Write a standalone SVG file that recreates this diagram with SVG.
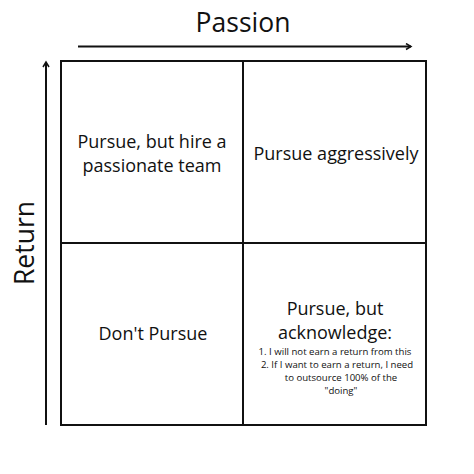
<svg xmlns="http://www.w3.org/2000/svg" width="474" height="474" viewBox="0 0 474 474">
<style>
text{font-family:"Open Sans","Liberation Sans",sans-serif;fill:#111;text-anchor:middle}
.cell{fill:#fff;stroke:#111;stroke-width:2}
.ax{stroke:#111;stroke-width:2;fill:none}
.q{font-size:18px}
.s{font-size:9.6px}
</style>
<defs>
<marker id="ah" markerWidth="8" markerHeight="8" refX="6" refY="4" orient="auto" markerUnits="userSpaceOnUse">
<path d="M1,1 L6,4 L1,7" fill="none" stroke="#111" stroke-width="1.5"/>
</marker>
</defs>
<rect width="474" height="474" fill="#fff"/>
<g id="connectors">
<line class="ax" x1="78" y1="46.5" x2="411" y2="46.5" marker-end="url(#ah)"/>
<line class="ax" x1="46" y1="425" x2="46" y2="62" marker-end="url(#ah)"/>
</g>
<g id="q-top-left">
<rect class="cell" x="61" y="61" width="182" height="182"/>
<text class="q" x="152" y="148">Pursue, but hire a</text>
<text class="q" x="152" y="172">passionate team</text>
</g>
<g id="q-top-right">
<rect class="cell" x="243" y="61" width="183" height="182"/>
<text class="q" x="336" y="160">Pursue aggressively</text>
</g>
<g id="q-bottom-left">
<rect class="cell" x="61" y="243" width="182" height="182"/>
<text class="q" x="153" y="340">Don't Pursue</text>
</g>
<g id="q-bottom-right">
<rect class="cell" x="243" y="243" width="183" height="182"/>
<text class="q" x="335" y="315">Pursue, but</text>
<text class="q" x="335" y="339">acknowledge:</text>
<text class="s" x="335" y="355">1. I will not earn a return from this</text>
<text class="s" x="337" y="368">2. If I want to earn a return, I need</text>
<text class="s" x="341" y="381">to outsource 100% of the</text>
<text class="s" x="341" y="394">"doing"</text>
</g>
<g id="labels">
<text x="243" y="32" font-size="26.5">Passion</text>
<text x="0" y="0" font-size="26.5" transform="translate(34,243) rotate(-90)">Return</text>
</g>
</svg>
